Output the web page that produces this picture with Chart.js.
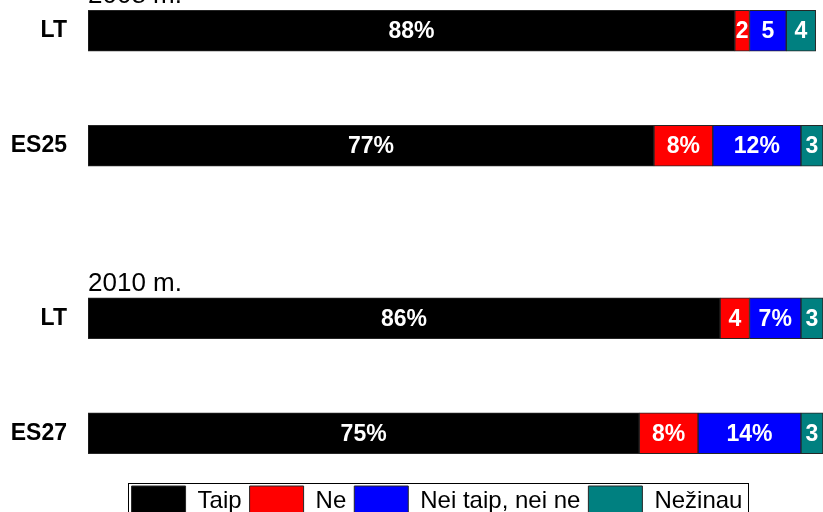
<!DOCTYPE html>
<html>
<head>
<meta charset="utf-8">
<title>Taip / Ne</title>
<script src="https://cdn.jsdelivr.net/npm/chart.js@4/dist/chart.umd.min.js"></script>
<style>
  html, body { margin: 0; padding: 0; background: #fff; overflow: hidden; }
  #chart { display: block; }
</style>
</head>
<body>
<canvas id="chart" width="823" height="526"></canvas>
<script>
// eilutės: tuščios vietos palieka tarpus tarp metų grupių
const categories = ['LT', '', 'ES25', '', '', 'LT', '', 'ES27'];
const taip   = [88, null, 77, null, null, 86, null, 75];
const ne     = [2,  null, 8,  null, null, 4,  null, 8];
const neiNei = [5,  null, 12, null, null, 7,  null, 14];
const nezinau = [4, null, 3,  null, null, 3,  null, 3];
const groupTitles = [
  { row: 0, text: '2008 m.' },
  { row: 5, text: '2010 m.' }
];

const FONT = "'Liberation Sans', Arial, sans-serif";
Chart.defaults.font.family = FONT;
Chart.defaults.color = '#000';

// procentas rodomas tik ten, kur segmentas pakankamai platus
function fmt(v) {
  return v >= 7 ? v + '%' : String(v);
}

// baltos reikšmės segmentų viduryje
const valueLabels = {
  id: 'valueLabels',
  afterDatasetsDraw(chart) {
    const ctx = chart.ctx;
    ctx.save();
    ctx.font = 'bold 23px ' + FONT;
    ctx.fillStyle = '#fff';
    ctx.textAlign = 'center';
    ctx.textBaseline = 'middle';
    chart.data.datasets.forEach((ds, i) => {
      chart.getDatasetMeta(i).data.forEach((bar, j) => {
        const v = ds.data[j];
        if (v == null) return;
        ctx.fillText(fmt(v), (bar.x + bar.base) / 2, bar.y + 1);
      });
    });
    ctx.restore();
  }
};

// eilučių pavadinimai, metų antraštės ir rėmelis aplink legendą
const extras = {
  id: 'extras',
  afterDraw(chart) {
    const ctx = chart.ctx;
    const y = chart.scales.y;
    const area = chart.chartArea;
    const half = chart.getDatasetMeta(0).data[0].height / 2;
    ctx.save();

    // eilučių pavadinimai kairėje (ašies etiketės nekerpamos)
    ctx.font = 'bold 23px ' + FONT;
    ctx.fillStyle = '#000';
    ctx.textAlign = 'right';
    ctx.textBaseline = 'middle';
    chart.data.labels.forEach((lab, i) => {
      if (lab) ctx.fillText(lab, area.left - 21, y.getPixelForValue(i));
    });

    ctx.font = '26px ' + FONT;
    ctx.textAlign = 'left';
    ctx.textBaseline = 'alphabetic';
    groupTitles.forEach(g => {
      ctx.fillText(g.text, area.left, y.getPixelForValue(g.row) - half - 7);
    });

    const boxes = chart.legend.legendHitBoxes;
    if (boxes && boxes.length) {
      const first = boxes[0];
      const last = boxes[boxes.length - 1];
      const left = first.left - 4;
      const right = last.left + last.width + 5;
      const top = first.top - 3;
      ctx.strokeStyle = '#000';
      ctx.lineWidth = 1;
      ctx.strokeRect(Math.round(left) + 0.5, Math.round(top) + 0.5, Math.round(right - left), 60);
    }
    ctx.restore();
  }
};

const common = { borderColor: '#262626', borderWidth: 1, borderSkipped: false, barThickness: 41 };

new Chart(document.getElementById('chart'), {
  type: 'bar',
  data: {
    labels: categories,
    datasets: [
      { label: 'Taip', data: taip, backgroundColor: '#000000', ...common },
      { label: 'Ne', data: ne, backgroundColor: '#ff0000', ...common },
      { label: 'Nei taip, nei ne', data: neiNei, backgroundColor: '#0000ff', ...common },
      { label: 'Nežinau', data: nezinau, backgroundColor: '#008080', ...common }
    ]
  },
  options: {
    indexAxis: 'y',
    responsive: false,
    animation: false,
    layout: { padding: { left: 51, top: 2, right: 0, bottom: 0 } },
    scales: {
      x: {
        stacked: true,
        min: 0,
        max: 100,
        grid: { display: false, drawTicks: false },
        border: { display: false },
        ticks: { display: false },
        afterFit(scale) { scale.height = 16; }
      },
      y: {
        stacked: true,
        grid: { display: false, drawTicks: false },
        border: { display: false },
        ticks: { display: false },
        afterFit(scale) { scale.width = 37; }
      }
    },
    plugins: {
      legend: {
        position: 'bottom',
        labels: {
          boxWidth: 54,
          boxHeight: 30,
          padding: 8,
          color: '#000',
          font: { size: 24 }
        }
      },
      tooltip: { enabled: false }
    }
  },
  plugins: [valueLabels, extras]
});
</script>
</body>
</html>
